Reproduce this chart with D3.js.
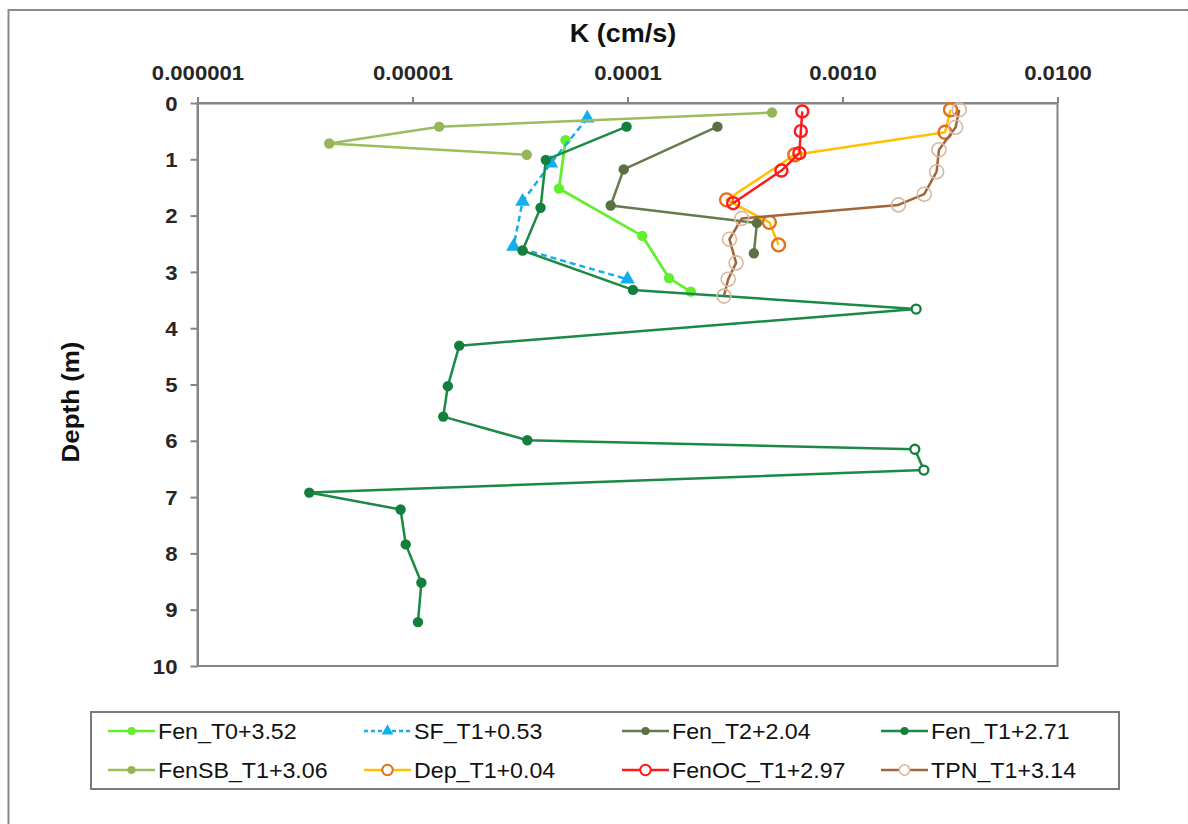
<!DOCTYPE html>
<html>
<head>
<meta charset="utf-8">
<script src="https://cdn.jsdelivr.net/npm/d3@7/dist/d3.min.js"></script>
<style>
  html, body { margin: 0; padding: 0; background: #ffffff; }
  svg { display: block; font-family: "Liberation Sans", Arial, sans-serif; }
</style>
</head>
<body>
<svg id="chart" width="1188" height="824"></svg>
<script>
// Hydraulic conductivity profiles: K (cm/s) against depth (m)
const kTicks = [1e-6, 1e-5, 1e-4, 1e-3, 1e-2];
const kTickLabels = ["0.000001", "0.00001", "0.0001", "0.0010", "0.0100"];
const depthTicks = [0, 1, 2, 3, 4, 5, 6, 7, 8, 9, 10];

const seriesNames = ["Fen_T0+3.52", "SF_T1+0.53", "Fen_T2+2.04", "Fen_T1+2.71",
                     "FenSB_T1+3.06", "Dep_T1+0.04", "FenOC_T1+2.97", "TPN_T1+3.14"];

const fenT0K     = [5.15e-5, 4.8e-5, 1.17e-4, 1.56e-4, 1.97e-4];
const fenT0Depth = [0.66, 1.52, 2.36, 3.11, 3.35];

const sfT1K     = [6.5e-5, 4.4e-5, 3.25e-5, 2.95e-5, 1.0e-4];
const sfT1Depth = [0.27, 1.07, 1.75, 2.55, 3.13];

const fenT2K     = [2.62e-4, 9.6e-5, 8.35e-5, 4.0e-4, 3.87e-4];
const fenT2Depth = [0.42, 1.18, 1.82, 2.13, 2.67];

const fenT1K     = [9.9e-5, 4.17e-5, 3.94e-5, 3.25e-5, 1.06e-4, 2.2e-3, 1.65e-5, 1.46e-5, 1.39e-5,
                    3.42e-5, 2.17e-3, 2.39e-3, 3.31e-6, 8.8e-6, 9.3e-6, 1.1e-5, 1.06e-5];
const fenT1Depth = [0.42, 1.01, 1.86, 2.62, 3.32, 3.66, 4.31, 5.03, 5.57,
                    5.99, 6.15, 6.52, 6.92, 7.22, 7.84, 8.52, 9.22];
// Fen_T1 samples drawn with hollow markers
const fenT1HollowIdx = [5, 10, 11];

const fenSBT1K     = [4.7e-4, 1.33e-5, 4.1e-6, 3.4e-5];
const fenSBT1Depth = [0.17, 0.42, 0.72, 0.92];

const depT1K     = [3.18e-3, 3.0e-3, 6.0e-4, 2.89e-4, 4.57e-4, 5.04e-4];
const depT1Depth = [0.12, 0.52, 0.92, 1.72, 2.12, 2.52];

const fenOCT1K     = [6.5e-4, 6.4e-4, 6.3e-4, 5.2e-4, 3.1e-4];
const fenOCT1Depth = [0.15, 0.50, 0.89, 1.20, 1.78];

const tpnT1K     = [3.49e-3, 3.36e-3, 2.81e-3, 2.74e-3, 2.4e-3, 1.82e-3, 3.4e-4, 2.98e-4, 3.2e-4, 2.94e-4, 2.81e-4];
const tpnT1Depth = [0.12, 0.43, 0.83, 1.22, 1.62, 1.81, 2.05, 2.42, 2.84, 3.13, 3.43];

// Series styling
const styles = [
  { k: fenT0K,   d: fenT0Depth,   line: "#63ee2e", marker: "dot",  mfill: "#63ee2e", mstroke: "#63ee2e", w: 2.8 },
  { k: sfT1K,    d: sfT1Depth,    line: "#13aeee", marker: "tri",  mfill: "#13aeee", mstroke: "#13aeee", dash: "6,4" },
  { k: fenT2K,   d: fenT2Depth,   line: "#667a4f", marker: "dot",  mfill: "#5c7045", mstroke: "#5c7045" },
  { k: fenT1K,   d: fenT1Depth,   line: "#1a8a45", marker: "dot",  mfill: "#137f3c", mstroke: "#137f3c", hollow: fenT1HollowIdx },
  { k: fenSBT1K, d: fenSBT1Depth, line: "#9cbc5e", marker: "dot",  mfill: "#94b657", mstroke: "#94b657" },
  { k: depT1K,   d: depT1Depth,   line: "#ffc000", marker: "ring", mfill: "none",    mstroke: "#e4701a", r: 6.5 },
  { k: fenOCT1K, d: fenOCT1Depth, line: "#ff1a1a", marker: "ring", mfill: "none",    mstroke: "#ff1a1a", r: 6 },
  { k: tpnT1K,   d: tpnT1Depth,   line: "#a2653a", marker: "ring", mfill: "none",    mstroke: "#d8b89e", r: 7, rw: 1.6 }
];

const svg = d3.select("#chart");
const axisGrey = "#858585";

// Outer frame
svg.append("path")
  .attr("d", "M8.5,830 L8.5,10 L1195,10")
  .attr("fill", "none").attr("stroke", "#8a8a8a").attr("stroke-width", 2);

const x = d3.scaleLog().domain([1e-6, 1e-2]).range([197.5, 1057.5]);
const y = d3.scaleLinear().domain([0, 10]).range([103, 666]);

// Plot area box
svg.append("rect")
  .attr("x", x.range()[0]).attr("y", y.range()[0])
  .attr("width", x.range()[1] - x.range()[0]).attr("height", y.range()[1] - y.range()[0])
  .attr("fill", "none").attr("stroke", axisGrey).attr("stroke-width", 2);

const stretch = 1.08;

// Top log axis
const gx = svg.append("g").attr("transform", `translate(0,${y(0)})`)
  .call(d3.axisTop(x).tickValues(kTicks).tickFormat((d, i) => kTickLabels[i]).tickSize(6).tickSizeOuter(0));
gx.select(".domain").attr("stroke", axisGrey).attr("stroke-width", 2);
gx.selectAll(".tick line").attr("stroke", axisGrey).attr("stroke-width", 2);
gx.selectAll(".tick text")
  .attr("y", 0).attr("dy", 0)
  .attr("transform", `translate(0,-23) scale(${stretch},1)`)
  .attr("font-size", 20.5).attr("font-weight", "bold").attr("fill", "#262626");

// Left depth axis
const gy = svg.append("g").attr("transform", `translate(${x.range()[0]},0)`)
  .call(d3.axisLeft(y).tickValues(depthTicks).tickFormat(d3.format("d")).tickSize(7).tickSizeOuter(0));
gy.select(".domain").attr("stroke", axisGrey).attr("stroke-width", 2);
gy.selectAll(".tick line").attr("stroke", axisGrey).attr("stroke-width", 2);
gy.selectAll(".tick text")
  .attr("x", 0).attr("dy", "0.35em")
  .attr("transform", `translate(-20,0) scale(${stretch},1)`)
  .attr("font-size", 20.5).attr("font-weight", "bold").attr("fill", "#262626");

// Axis titles
svg.append("text")
  .attr("transform", `translate(623,42) scale(${stretch},1)`)
  .attr("text-anchor", "middle").attr("font-size", 25).attr("font-weight", "bold").attr("fill", "#111")
  .text("K (cm/s)");
svg.append("text")
  .attr("transform", `translate(79,402) rotate(-90) scale(${stretch},1)`)
  .attr("text-anchor", "middle").attr("font-size", 24).attr("font-weight", "bold").attr("fill", "#111")
  .text("Depth (m)");

// Series
const lineGen = d3.line().x(p => x(p[0])).y(p => y(p[1]));
const tri = d3.symbol().type(d3.symbolTriangle).size(95);

const plot = svg.append("g");
styles.forEach(s => {
  const pts = s.k.map((k, i) => [k, s.d[i], i]);
  const g = plot.append("g");
  g.append("path")
    .attr("d", lineGen(pts))
    .attr("fill", "none").attr("stroke", s.line).attr("stroke-width", s.w || 2.5)
    .attr("stroke-linejoin", "round")
    .attr("stroke-dasharray", s.dash || null);
  pts.forEach(p => {
    const cx = x(p[0]), cy = y(p[1]);
    const hollow = s.hollow && s.hollow.includes(p[2]);
    if (s.marker === "tri") {
      g.append("path").attr("d", tri).attr("transform", `translate(${cx},${cy})`)
        .attr("fill", s.mfill);
    } else if (s.marker === "ring") {
      g.append("circle").attr("cx", cx).attr("cy", cy).attr("r", s.r)
        .attr("fill", "none").attr("stroke", s.mstroke).attr("stroke-width", s.rw || 2.4);
    } else if (hollow) {
      g.append("circle").attr("cx", cx).attr("cy", cy).attr("r", 4.5)
        .attr("fill", "#ffffff").attr("stroke", s.mstroke).attr("stroke-width", 2.3);
    } else {
      g.append("circle").attr("cx", cx).attr("cy", cy).attr("r", 5.2).attr("fill", s.mfill);
    }
  });
});

// Legend
const legend = svg.append("g");
legend.append("rect")
  .attr("x", 91).attr("y", 712).attr("width", 1028).attr("height", 77)
  .attr("fill", "#ffffff").attr("stroke", "#7a7a7a").attr("stroke-width", 2);

const colX = [108, 364, 622, 881];
const rowY = [731, 770];
seriesNames.forEach((name, i) => {
  const s = styles[i];
  const lx = colX[i % 4], ly = rowY[Math.floor(i / 4)];
  const item = legend.append("g").attr("transform", `translate(${lx},${ly})`);
  item.append("line").attr("x1", 0).attr("x2", 47).attr("y1", 0).attr("y2", 0)
    .attr("stroke", s.line).attr("stroke-width", 2.5).attr("stroke-dasharray", s.dash ? "4,3" : null);
  if (s.marker === "tri") {
    item.append("path").attr("d", d3.symbol().type(d3.symbolTriangle).size(60)).attr("transform", "translate(23.5,0)").attr("fill", s.mfill);
  } else if (s.marker === "ring") {
    item.append("circle").attr("cx", 23.5).attr("cy", 0).attr("r", 5.2)
      .attr("fill", "#ffffff").attr("stroke", s.mstroke).attr("stroke-width", s.rw || 2);
  } else {
    item.append("circle").attr("cx", 23.5).attr("cy", 0).attr("r", 4).attr("fill", s.mfill);
  }
  item.append("text")
    .attr("transform", `translate(50,7.8) scale(${stretch},1)`)
    .attr("font-size", 21.5).attr("fill", "#111")
    .text(name);
});
</script>
</body>
</html>
